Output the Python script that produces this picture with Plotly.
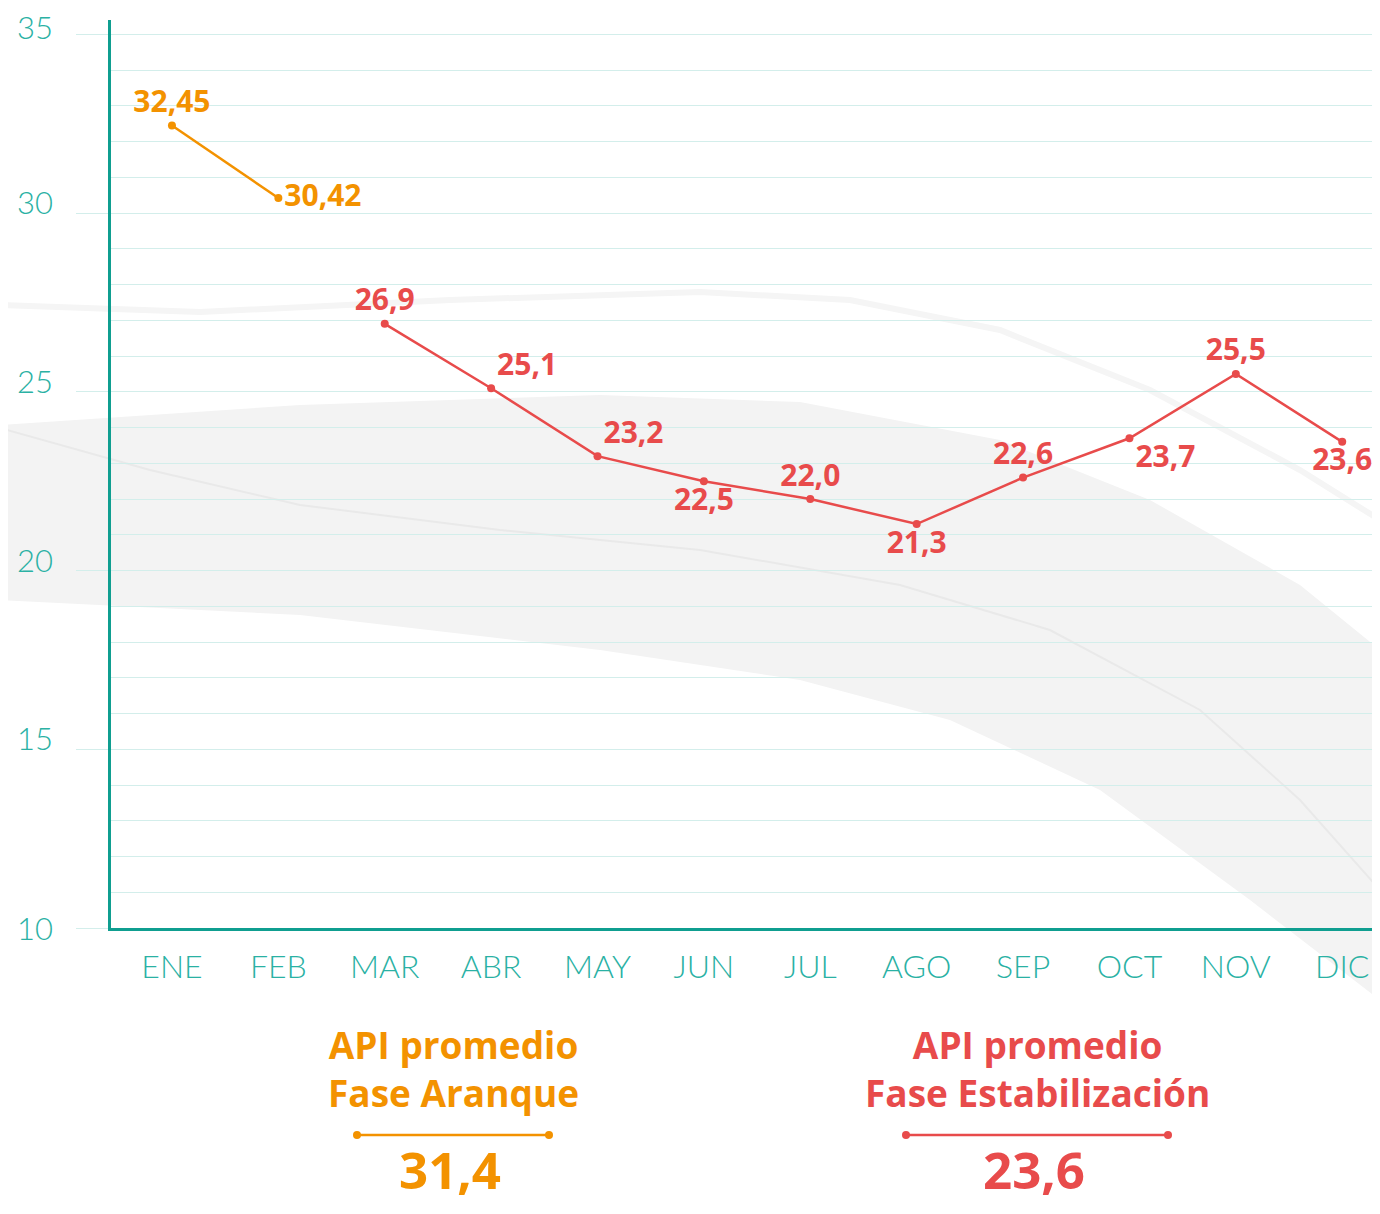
import plotly.graph_objects as go

# Data
months = ["ENE", "FEB", "MAR", "ABR", "MAY", "JUN", "JUL", "AGO", "SEP", "OCT", "NOV", "DIC"]
aranque_months = months[:2]
aranque_values = [32.45, 30.42]
estab_months = months[2:]
estab_values = [26.9, 25.1, 23.2, 22.5, 22.0, 21.3, 22.6, 23.7, 25.5, 23.6]
y_ticks = [10, 15, 20, 25, 30, 35]

ORANGE = "#F39200"
RED = "#E84B4B"
TEAL = "#0F9E90"
TEAL_TEXT = "#2AB1A4"
GRID = "#D3EEEB"

# page has an 8px body margin, so the figure sits at (8, 8) in the screenshot
OFF = 8
W, H = 1364, 1198
L, R, T, B = 103, 0, 12, 278
PW, PH = W - L - R, H - T - B


def fmt(v):
    return str(v).replace(".", ",")


def paper(x, y):
    # screenshot pixel position -> paper coordinates (decoration only)
    return (x - OFF - L) / PW, (H - B + OFF - y) / PH


def path(points, close=True):
    pts = [paper(x, y) for x, y in points]
    d = "M " + " L ".join(f"{px:.4f},{py:.4f}" for px, py in pts)
    return d + (" Z" if close else "")


aranque_avg = round(sum(aranque_values) / len(aranque_values), 1)
estab_avg = round(sum(estab_values) / len(estab_values), 1)

aranque_pos = ["top center", "middle right"]
estab_pos = ["top center", "top right", "top right", "bottom center", "top center",
             "bottom center", "top center", "bottom right", "top center", "bottom center"]

LABEL_FONT = "Open Sans"

fig = go.Figure()

fig.add_trace(go.Scatter(
    x=aranque_months, y=aranque_values,
    mode="lines+markers+text",
    text=[fmt(v) for v in aranque_values],
    textposition=aranque_pos,
    textfont=dict(family=LABEL_FONT, size=30, color=ORANGE, weight=700),
    line=dict(color=ORANGE, width=2.5),
    marker=dict(color=ORANGE, size=8),
    cliponaxis=False,
    showlegend=False,
))

fig.add_trace(go.Scatter(
    x=estab_months, y=estab_values,
    mode="lines+markers+text",
    text=[fmt(v) for v in estab_values],
    textposition=estab_pos,
    textfont=dict(family=LABEL_FONT, size=30, color=RED, weight=700),
    line=dict(color=RED, width=2.5),
    marker=dict(color=RED, size=8),
    cliponaxis=False,
    showlegend=False,
))

# Decorative background swoosh
band_top = [(0, 425), (300, 405), (600, 395), (800, 402), (1000, 440),
            (1150, 500), (1300, 585), (1380, 650)]
band_bottom = [(1380, 1000), (1250, 900), (1100, 790), (950, 720),
               (800, 680), (600, 650), (300, 615), (0, 600)]
shapes = [
    dict(type="path", xref="paper", yref="paper", layer="below",
         path=path(band_top + band_bottom),
         fillcolor="#F3F3F3", line=dict(width=0)),
    dict(type="path", xref="paper", yref="paper", layer="below",
         path=path([(0, 428), (150, 470), (300, 505), (500, 530), (700, 550),
                    (900, 585), (1050, 630), (1200, 710), (1300, 800), (1380, 890)], close=False),
         line=dict(color="#E9E9E9", width=2)),
    dict(type="path", xref="paper", yref="paper", layer="below",
         path=path([(0, 305), (200, 312), (450, 300), (700, 292), (850, 300),
                    (1000, 330), (1150, 390), (1300, 470), (1380, 520)], close=False),
         line=dict(color="#F5F5F5", width=6)),
]

# Summary separators
for x0, x1, c in [(357, 549, ORANGE), (906, 1168, RED)]:
    a = paper(x0, 1135)
    b = paper(x1, 1135)
    shapes.append(dict(type="line", xref="paper", yref="paper",
                       x0=a[0], x1=b[0], y0=a[1], y1=b[1], line=dict(color=c, width=2.5)))
    for p in (a, b):
        shapes.append(dict(type="circle", xref="paper", yref="paper",
                           x0=p[0] - 4 / PW, x1=p[0] + 4 / PW,
                           y0=p[1] - 4 / PH, y1=p[1] + 4 / PH,
                           fillcolor=c, line=dict(width=0)))

annotations = []

# y tick labels sit a little above their gridlines
for v in y_ticks:
    shift = 0 if v == min(y_ticks) else (7 if v == max(y_ticks) else 11)
    annotations.append(dict(x=0, xref="paper", y=v, yref="y", text=str(v),
                            showarrow=False, xanchor="right", yanchor="middle",
                            xshift=-56, yshift=shift,
                            font=dict(family="Lato", size=31, color=TEAL_TEXT, weight=300)))

for cx, title, val, c in [(453, "API promedio<br>Fase Aranque", aranque_avg, ORANGE),
                          (1037, "API promedio<br>Fase Estabilización", estab_avg, RED)]:
    tx, ty = paper(cx, 1068)
    annotations.append(dict(x=tx, y=ty, xref="paper", yref="paper", text=title,
                            showarrow=False, xanchor="center", yanchor="middle",
                            font=dict(family=LABEL_FONT, size=37, color=c, weight=700)))
    vx, vy = paper(cx - 3, H + OFF)
    annotations.append(dict(x=vx, y=vy, xref="paper", yref="paper", text=fmt(val),
                            showarrow=False, xanchor="center", yanchor="bottom",
                            font=dict(family=LABEL_FONT, size=51, color=c, weight=700)))

fig.update_layout(
    width=W, height=H,
    margin=dict(l=L, r=R, t=T, b=B),
    paper_bgcolor="white",
    plot_bgcolor="rgba(0,0,0,0)",
    shapes=shapes,
    annotations=annotations,
)

fig.update_xaxes(
    type="category",
    categoryorder="array", categoryarray=months,
    range=[-0.573, 11.28],
    showline=True, linecolor=TEAL, linewidth=3,
    showgrid=False, zeroline=False,
    ticks="",
    ticklabelstandoff=9,
    tickfont=dict(family="Lato", size=32, color=TEAL_TEXT, weight=300),
)

fig.update_yaxes(
    range=[10, 35.4],
    tickvals=y_ticks,
    showticklabels=False,
    showline=True, linecolor=TEAL, linewidth=2.5,
    showgrid=True, gridcolor=GRID, gridwidth=1,
    zeroline=False,
    ticks="outside", ticklen=32, tickcolor=GRID, tickwidth=1,
    minor=dict(dtick=1, showgrid=True, gridcolor=GRID, gridwidth=1),
)

fig.write_html("out.html")
